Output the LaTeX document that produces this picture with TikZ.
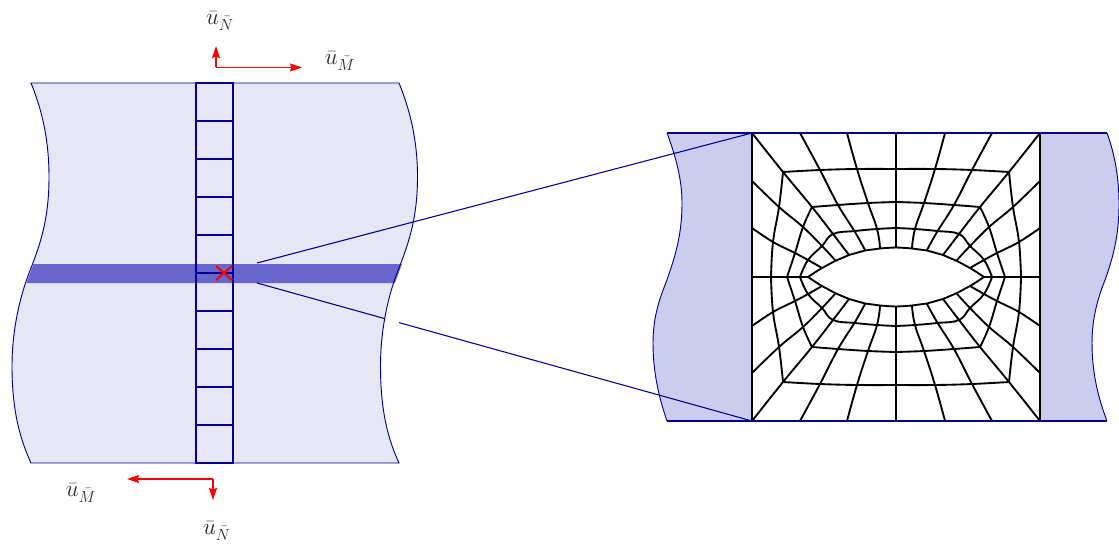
\documentclass[tikz,border=0pt]{standalone}
\usepackage{amsmath}
\usetikzlibrary{arrows.meta, positioning, calc}
\definecolor{sheetblue}{HTML}{000099}
\definecolor{sheetlight}{HTML}{E6E6F5}
\definecolor{sheetmid}{HTML}{CCCCEE}
\definecolor{bandblue}{HTML}{6666CC}
\tikzset{
  sheet edge/.style={draw=sheetblue, line width=0.7pt},
  cell line/.style={draw=sheetblue, line width=1.8pt},
  mesh line/.style={draw=black, line width=1.4pt, line join=round},
  zoom line/.style={draw=sheetblue, line width=0.8pt},
  load arrow/.style={-{Stealth[length=9pt,width=6pt,inset=1pt]}, draw=red, line width=1pt},
  load label/.style={font=\LARGE, text=black!85, inner sep=0pt}
}
\newcommand{\meshquarter}{%
  % radial lines
  \draw [mesh line] plot [smooth, tension=0.6] coordinates {(-144,-144) (-113,-105) (-84,-70) (-63,-43) (-47,-22)};
  \draw [mesh line] plot [smooth, tension=0.6] coordinates {(-96,-144) (-76,-107) (-58,-72) (-41,-45) (-31,-27)};
  \draw [mesh line] plot [smooth, tension=0.8] coordinates {(-49,-144) (-39,-108) (-28,-74) (-19,-48) (-16,-28.5)};
  \draw [mesh line] (0,-144) -- (0,-29.5);
  \draw [mesh line] plot [smooth, tension=0.6] coordinates {(-144,-96) (-117,-70) (-93,-50) (-74,-31) (-61,-17)};
  \draw [mesh line] plot [smooth, tension=0.6] coordinates {(-144,-49) (-123,-35) (-101,-24) (-88,-17) (-74,-9)};
  \draw [mesh line] (-144,0) -- (-88,0);
  % rings round the hole
  \draw [mesh line] plot [smooth, tension=0.7] coordinates {(-113,-105) (-76,-107) (-39,-108) (0,-108)};
  \draw [mesh line] plot [smooth, tension=0.7] coordinates {(-125,0) (-123,-35) (-117,-70) (-113,-105)};
  \draw [mesh line] plot [smooth, tension=0.7] coordinates {(-84,-70) (-58,-72) (-28,-74) (0,-75)};
  \draw [mesh line] plot [smooth, tension=0.7] coordinates {(-109,0) (-101,-24) (-93,-50) (-84,-70)};
  \draw [mesh line] plot [smooth, tension=0.7] coordinates {(-96,0) (-88,-17) (-74,-31) (-63,-43) (-41,-46) (-19,-48) (0,-49)};
  % hole
  \draw [mesh line] plot [smooth, tension=0.9] coordinates {(-88,0) (-74,-9) (-61,-16) (-47,-22) (-31,-26.5) (-16,-28.5) (0,-29.5)};
}

\begin{document}
\begin{tikzpicture}[x=0.75pt, y=-0.75pt]
  \useasboundingbox (0,0) rectangle (1119,545);

  % left sheet
  \fill [sheetlight] (31,83) -- (399,83) .. controls (412,115) and (417.5,145) .. (417.5,177)
    .. controls (417.5,215) and (410,240) .. (399,268) .. controls (388,295) and (380.5,330) .. (380.5,366)
    .. controls (380.5,405) and (386,435) .. (399,463) -- (31,463)
    .. controls (18,435) and (12,405) .. (12,366) .. controls (12,330) and (20,295) .. (31,268)
    .. controls (42,240) and (49,215) .. (49,177) .. controls (49,145) and (44,115) .. (31,83) -- cycle;
  \fill [bandblue] (33.5,264) -- (402,264) -- (395,283) -- (26.5,283) -- cycle;
  \draw [sheet edge] (31,83) -- (399,83) .. controls (412,115) and (417.5,145) .. (417.5,177)
    .. controls (417.5,215) and (410,240) .. (399,268) .. controls (388,295) and (380.5,330) .. (380.5,366)
    .. controls (380.5,405) and (386,435) .. (399,463) -- (31,463)
    .. controls (18,435) and (12,405) .. (12,366) .. controls (12,330) and (20,295) .. (31,268)
    .. controls (42,240) and (49,215) .. (49,177) .. controls (49,145) and (44,115) .. (31,83) -- cycle;

  % cells of the column
  \draw [cell line] (196,83) rectangle (233,463);
  \foreach \y in {121,159,197,235,273,311,349,387,425}
    \draw [cell line] (196,\y) -- (233,\y);
  \draw [draw=red, line width=1.5pt] (216,266) -- (232,280) (216,280) -- (232,266);

  % right sheet
  \fill [sheetmid] (667,133) -- (752,133) -- (752,421) -- (667,421)
    .. controls (658,395) and (653,370) .. (653,343) .. controls (653,320) and (658,303) .. (665,285)
    .. controls (675,258) and (682,235) .. (682,203) .. controls (682,180) and (676,157) .. (667,133) -- cycle;
  \draw [sheet edge] (667,133) .. controls (676,157) and (682,180) .. (682,203)
    .. controls (682,235) and (675,258) .. (665,285) .. controls (658,303) and (653,320) .. (653,343)
    .. controls (653,370) and (658,395) .. (667,421);
  \fill [sheetmid] (1040,133) -- (1107,133) .. controls (1115,155) and (1119,178) .. (1119,205)
    .. controls (1119,235) and (1113,258) .. (1105,280) .. controls (1097,300) and (1092,320) .. (1092,343)
    .. controls (1092,370) and (1097,395) .. (1107,421) -- (1040,421) -- cycle;
  \draw [sheet edge] (1107,133) .. controls (1115,155) and (1119,178) .. (1119,205)
    .. controls (1119,235) and (1113,258) .. (1105,280) .. controls (1097,300) and (1092,320) .. (1092,343)
    .. controls (1092,370) and (1097,395) .. (1107,421);

  % mesh of the zoomed cell
  \draw [mesh line] (752,133) rectangle (1040,421);
  \begin{scope}[shift={(896,277)}]
    \meshquarter
    \begin{scope}[xscale=-1] \meshquarter \end{scope}
    \begin{scope}[yscale=-1] \meshquarter \end{scope}
    \begin{scope}[xscale=-1, yscale=-1] \meshquarter \end{scope}
  \end{scope}
  \draw [sheet edge, line width=1pt] (667,133) -- (1107,133);
  \draw [sheet edge, line width=1pt] (667,421) -- (1107,421);

  % zoom lines
  \coordinate (band top) at (257,263);
  \coordinate (band low) at (257,283);
  \coordinate (gap left) at (385,318.7);
  \coordinate (gap right) at (399,322.6);
  \coordinate (mesh top) at (752,133);
  \coordinate (mesh low) at (752,421);
  \draw [zoom line] (band top) -- (mesh top);
  \draw [zoom line] (band low) -- (gap left);
  \draw [zoom line] (gap right) -- (mesh low);

  % loads
  \coordinate (top corner) at (216,67.5);
  \coordinate (top up) at (216,46);
  \coordinate (top right) at (302,67.5);
  \coordinate (low corner) at (213,479);
  \coordinate (low left) at (127,479);
  \coordinate (low down) at (213,500);
  \draw [load arrow] (top corner) -- (top up);
  \draw [load arrow] (top corner) -- (top right);
  \draw [load arrow] (low corner) -- (low left);
  \draw [load arrow] (low corner) -- (low down);
  \node (top n) [load label] at (220,21) {$\bar u_{\bar N}$};
  \node (top m) [load label] at (340,61) {$\bar u_{\bar M}$};
  \node (low m) [load label] at (81,493) {$\bar u_{\bar M}$};
  \node (low n) [load label] at (217,531) {$\bar u_{\bar N}$};
\end{tikzpicture}
\end{document}
